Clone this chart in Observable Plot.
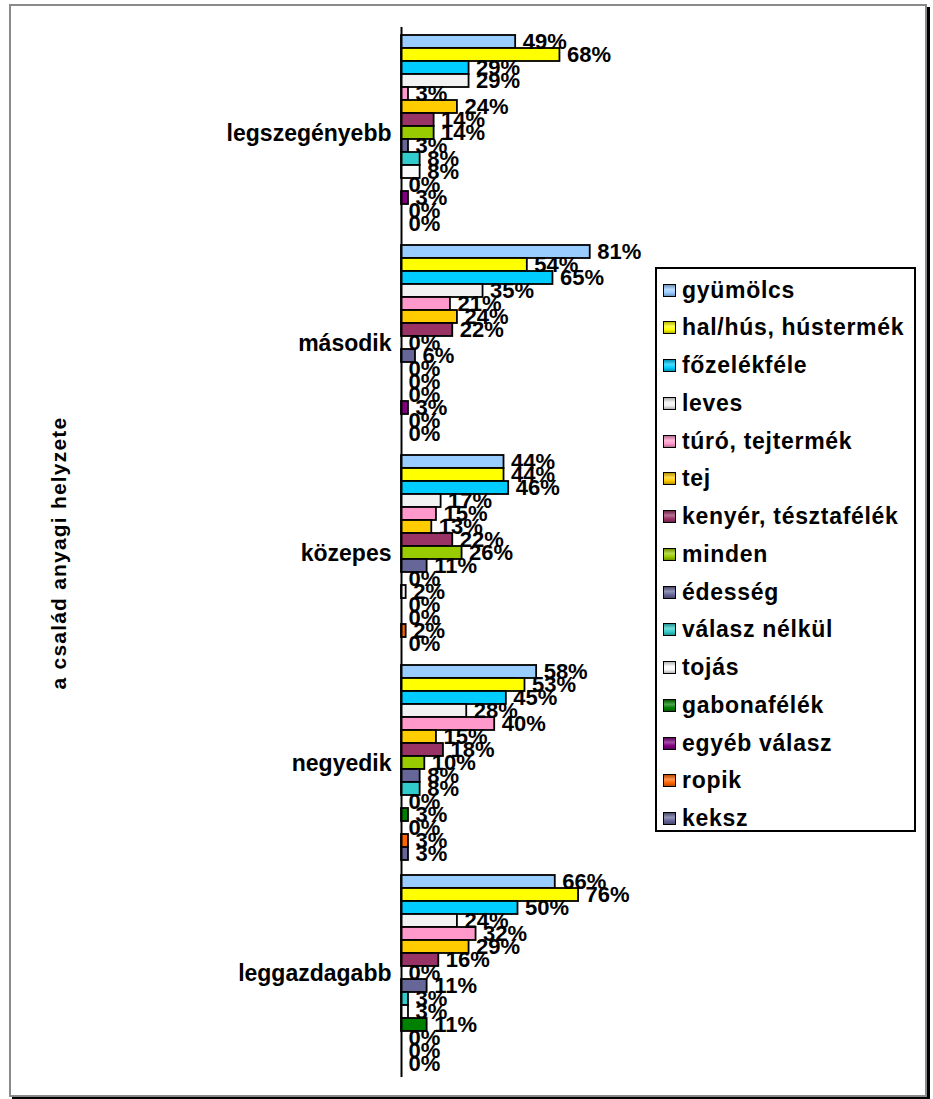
<!DOCTYPE html>
<html>
<head>
<meta charset="utf-8">
<script src="https://cdn.jsdelivr.net/npm/d3@7"></script>
<script src="https://cdn.jsdelivr.net/npm/@observablehq/plot@0.6"></script>
<style>
  html, body { margin: 0; padding: 0; background: #fff; }
  body { width: 933px; height: 1099px; position: relative; overflow: hidden; font-family: "Liberation Sans", Arial, sans-serif; }
  #frame { position: absolute; left: 9px; top: 4px; width: 914px; height: 1089px; border: 2px solid #8a8a8a; box-shadow: 3px 3px 0 #000; background: #fff; }
  #chart { position: absolute; left: 0; top: 0; }
  #ytitle { position: absolute; left: 59px; top: 553px; transform: translate(-50%, -50%) rotate(-90deg); white-space: nowrap; font-weight: bold; font-size: 21px; letter-spacing: 1.2px; color: #000; }
  #legend { position: absolute; left: 655px; top: 267px; width: 257px; height: 561px; border: 2px solid #000; background: #fff; }
  .item { position: absolute; left: 6px; height: 30px; display: flex; align-items: center; font-weight: bold; font-size: 23px; letter-spacing: 0.7px; color: #000; white-space: nowrap; }
  .sw { width: 11px; height: 11px; border: 1.5px solid #000; margin-right: 6px; flex: none; }
</style>
</head>
<body>
<div id="frame"></div>
<div id="chart"></div>
<div id="ytitle">a család anyagi helyzete</div>
<div id="legend"></div>
<script>
const groups = ["legszegényebb", "második", "közepes", "negyedik", "leggazdagabb"];
const series = ["gyümölcs", "hal/hús, hústermék", "főzelékféle", "leves", "túró, tejtermék", "tej", "kenyér, tésztafélék", "minden", "édesség", "válasz nélkül", "tojás", "gabonafélék", "egyéb válasz", "ropik", "keksz"];
const colors = ["#99ccff", "#ffff00", "#00ccff", "#f2f2f2", "#ff99cc", "#ffcc00", "#993366", "#99cc00", "#666699", "#33cccc", "#fafafa", "#008000", "#800080", "#ff6600", "#666698"];
const vLegszegenyebb = [49, 68, 29, 29, 3, 24, 14, 14, 3, 8, 8, 0, 3, 0, 0];
const vMasodik = [81, 54, 65, 35, 21, 24, 22, 0, 6, 0, 0, 0, 3, 0, 0];
const vKozepes = [44, 44, 46, 17, 15, 13, 22, 26, 11, 0, 2, 0, 0, 2, 0];
const vNegyedik = [58, 53, 45, 28, 40, 15, 18, 10, 8, 8, 0, 3, 0, 3, 3];
const vLeggazdagabb = [66, 76, 50, 24, 32, 29, 16, 0, 11, 3, 3, 11, 0, 0, 0];
const valuesByGroup = [vLegszegenyebb, vMasodik, vKozepes, vNegyedik, vLeggazdagabb];

const rows = [];
groups.forEach((g, gi) => series.forEach((s, si) => rows.push({group: g, series: s, value: valuesByGroup[gi][si]})));

const chart = Plot.plot({
  width: 933,
  height: 1099,
  marginLeft: 401,
  marginRight: 299,
  marginTop: 25,
  marginBottom: 21,
  style: {fontFamily: "'Liberation Sans', Arial, sans-serif", background: "transparent", color: "#000"},
  x: {domain: [0, 100], axis: null},
  y: {domain: series, axis: null, paddingInner: 0, paddingOuter: 0.54},
  fy: {domain: groups, axis: null, padding: 0},
  color: {domain: series, range: colors},
  marks: [
    Plot.barX(rows, {x: "value", y: "series", fy: "group", fill: "series", stroke: "#000", strokeWidth: 1.8, ariaLabel: "bars"}),
    Plot.text(rows, {x: "value", y: "series", fy: "group", text: d => d.value + "%", textAnchor: "start", dx: 7, dy: 0, fontSize: 22, fontWeight: "bold", fill: "#000", ariaLabel: "values"}),
    Plot.text(groups, {fy: d => d, frameAnchor: "left", textAnchor: "end", dx: -10, dy: 1, text: d => d, fontSize: 23, fontWeight: "bold", fill: "#000", ariaLabel: "groups"}),
    Plot.ruleX([0], {stroke: "#000", strokeWidth: 2})
  ]
});
document.getElementById("chart").appendChild(chart);

// gradients
function grad(c) {
  const dark = d3.interpolateRgb(c, "#000")(0.28);
  const light = d3.interpolateRgb(c, "#fff")(0.3);
  return [dark, light, c, dark];
}
const svg = d3.select(chart);
const defs = svg.insert("defs", ":first-child");
colors.forEach((c, i) => {
  const [dark, light, mid] = grad(c);
  const lg = defs.append("linearGradient").attr("id", "g" + i).attr("x1", 0).attr("y1", 0).attr("x2", 0).attr("y2", 1);
  lg.append("stop").attr("offset", "0%").attr("stop-color", dark);
  lg.append("stop").attr("offset", "40%").attr("stop-color", light);
  lg.append("stop").attr("offset", "70%").attr("stop-color", mid);
  lg.append("stop").attr("offset", "100%").attr("stop-color", dark);
});
svg.selectAll('g[aria-label="bars"] rect').each(function() {
  const f = (this.getAttribute("fill") || "").toLowerCase();
  const i = colors.indexOf(f);
  if (i >= 0) this.setAttribute("fill", "url(#g" + i + ")");
});
svg.selectAll('g[aria-label="values"] text').style("letter-spacing", "1.2px");
svg.selectAll('g[aria-label="groups"] text').style("letter-spacing", "2px");

// legend
const legend = document.getElementById("legend");
series.forEach((s, i) => {
  const [dark, light, mid] = grad(colors[i]);
  const it = document.createElement("div");
  it.className = "item";
  it.style.top = (6 + i * 37.75) + "px";
  const sw = document.createElement("span");
  sw.className = "sw";
  sw.style.background = `linear-gradient(to bottom, ${dark} 0%, ${light} 40%, ${mid} 70%, ${dark} 100%)`;
  it.appendChild(sw);
  const t = document.createElement("span");
  t.textContent = s;
  it.appendChild(t);
  legend.appendChild(it);
});
</script>
</body>
</html>
